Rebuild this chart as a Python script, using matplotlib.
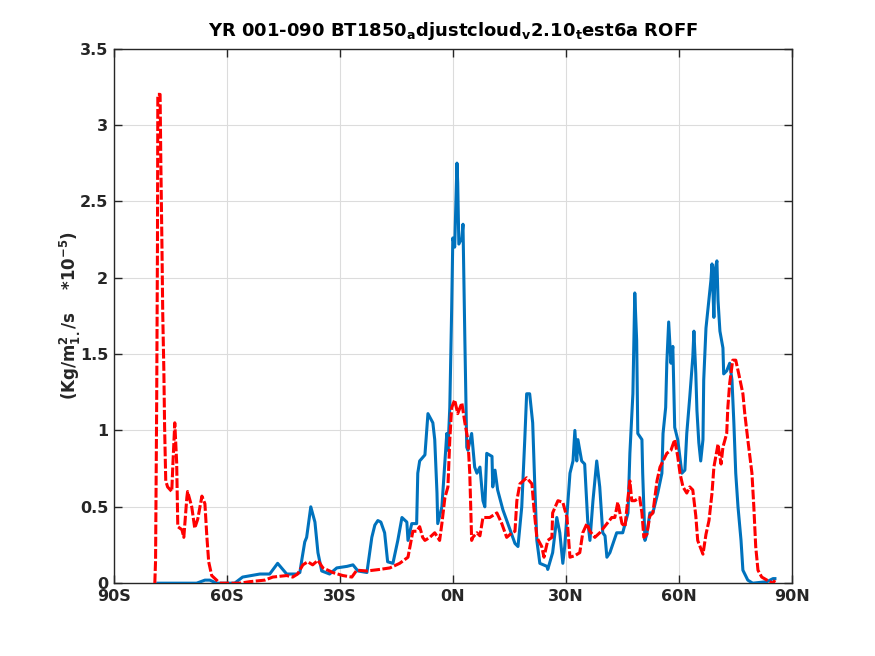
import matplotlib
matplotlib.use('Agg')
import matplotlib.pyplot as plt
import numpy as np

# ─── Zonal mean runoff (units of 1e-5 Kg/m2/s) ───

lat_blue = [-78.3, -68.0, -65.8, -64.5, -62.7, -57.9, -55.8, -51.2, -48.6, -46.5,
            -44.1, -41.4, -40.6, -40.1, -39.3, -38.8, -37.7, -36.6, -35.8, -34.8,
            -32.7, -30.8, -28.1, -26.5, -25.2, -22.8, -21.5, -20.7, -19.9, -19.1,
            -18.1, -17.3, -15.9, -14.6, -13.5, -12.2, -11.9, -10.9, -9.6, -9.3,
            -8.8, -7.4, -6.6, -5.3, -4.8, -4.2, -4.0, -2.9, -1.6, -1.3,
            -0.8, -0.3, 0.0, 0.5, 1.1, 1.3, 1.6, 2.4, 2.7, 3.2,
            3.7, 4.0, 5.0, 5.8, 6.4, 7.2, 8.0, 8.5, 9.0, 10.4,
            10.6, 11.2, 11.9, 13.3, 14.6, 16.5, 17.3, 18.3, 19.1, 19.6,
            20.4, 21.2, 21.8, 22.3, 23.1, 25.0, 25.2, 26.5, 27.6, 28.4,
            29.2, 29.7, 31.1, 31.9, 32.4, 32.9, 33.2, 34.2, 35.0, 35.8,
            36.4, 37.2, 38.2, 39.0, 39.8, 40.4, 40.9, 41.7, 43.5, 45.1,
            46.5, 47.0, 47.8, 48.3, 48.8, 49.1, 50.2, 50.4, 51.0, 51.5,
            52.3, 53.1, 54.4, 55.5, 55.8, 56.5, 56.8, 57.3, 57.9, 58.4,
            58.9, 59.7, 60.8, 61.6, 62.1, 62.9, 63.7, 64.0, 64.5, 64.8,
            65.3, 65.8, 66.4, 66.6, 67.2, 67.7, 68.5, 68.8, 69.3, 69.6,
            70.1, 70.4, 70.9, 71.7, 71.9, 72.7, 73.5, 74.1, 74.6, 75.1,
            75.7, 76.5, 77.0, 78.3, 79.6, 83.4, 85.0, 85.5]
roff_blue = [0.0, 0.0, 0.02, 0.02, 0.0, 0.0, 0.04, 0.06, 0.06, 0.13,
             0.06, 0.06, 0.07, 0.15, 0.27, 0.30, 0.50, 0.40, 0.20, 0.08,
             0.06, 0.10, 0.11, 0.12, 0.08, 0.07, 0.30, 0.38, 0.41, 0.40,
             0.33, 0.14, 0.13, 0.28, 0.43, 0.40, 0.28, 0.39, 0.39, 0.72,
             0.80, 0.84, 1.11, 1.05, 0.94, 0.59, 0.39, 0.50, 0.98, 0.87,
             1.15, 1.80, 2.26, 2.20, 2.75, 2.62, 2.22, 2.26, 2.35, 1.59,
             0.89, 0.87, 0.98, 0.76, 0.72, 0.76, 0.54, 0.50, 0.85, 0.83,
             0.63, 0.74, 0.61, 0.48, 0.39, 0.26, 0.24, 0.50, 0.94, 1.24,
             1.24, 1.05, 0.61, 0.28, 0.13, 0.11, 0.09, 0.20, 0.43, 0.33,
             0.13, 0.24, 0.72, 0.80, 1.00, 0.80, 0.94, 0.80, 0.78, 0.41,
             0.28, 0.54, 0.80, 0.63, 0.33, 0.31, 0.17, 0.20, 0.33, 0.33,
             0.46, 0.85, 1.24, 1.90, 1.59, 0.98, 0.94, 0.72, 0.28, 0.32,
             0.46, 0.46, 0.59, 0.72, 0.98, 1.15, 1.44, 1.71, 1.44, 1.55,
             1.02, 0.94, 0.72, 0.74, 0.98, 1.22, 1.48, 1.65, 1.37, 1.13,
             0.92, 0.80, 0.94, 1.33, 1.67, 1.79, 1.98, 2.09, 1.74, 2.05,
             2.11, 1.85, 1.65, 1.54, 1.37, 1.39, 1.44, 1.33, 1.05, 0.72,
             0.50, 0.28, 0.085, 0.02, 0.0, 0.01, 0.03, 0.03]

lat_red = [-79.1, -78.9, -78.6, -78.4, -78.3, -77.7, -77.5, -77.2, -77.0, -76.7,
           -76.5, -76.2, -75.7, -74.6, -74.3, -73.8, -73.3, -73.0, -71.9, -71.4,
           -70.6, -70.4, -69.3, -68.5, -67.7, -66.6, -65.8, -65.3, -64.8, -64.0,
           -62.7, -61.9, -56.5, -53.9, -49.9, -47.8, -44.1, -42.5, -41.2, -39.8,
           -38.5, -37.2, -35.8, -34.5, -32.7, -31.9, -29.2, -26.8, -25.5, -22.8,
           -19.4, -16.7, -14.1, -11.9, -10.9, -10.6, -9.6, -8.8, -8.0, -7.4,
           -6.1, -4.8, -3.5, -2.9, -2.1, -1.3, -0.8, -0.3, 0.5, 1.3,
           2.4, 3.2, 4.0, 4.5, 5.0, 5.3, 6.4, 7.2, 8.0, 9.8,
           11.7, 13.0, 14.3, 15.7, 16.5, 17.0, 17.8, 19.6, 21.0, 21.5,
           22.3, 23.6, 24.2, 25.2, 26.3, 26.5, 27.9, 29.2, 30.3, 31.1,
           32.4, 33.7, 34.5, 35.6, 36.4, 37.7, 39.0, 40.9, 42.2, 43.0,
           43.8, 44.9, 45.7, 46.5, 47.0, 47.5, 48.3, 49.6, 50.2, 50.7,
           51.5, 52.3, 53.1, 54.2, 55.0, 55.8, 56.8, 57.9, 58.9, 59.7,
           60.3, 61.1, 62.1, 62.9, 63.7, 64.5, 65.0, 66.1, 66.4, 67.2,
           68.0, 68.8, 69.3, 70.1, 70.4, 71.2, 71.7, 72.7, 73.0, 73.5,
           74.3, 75.1, 75.9, 77.0, 77.5, 78.3, 79.4, 79.9, 80.4, 81.0,
           82.0, 83.4, 85.0, 85.5]
roff_red = [0.0, 0.15, 1.20, 2.20, 3.20, 3.20, 2.75, 2.20, 1.77, 1.39,
            1.02, 0.67, 0.63, 0.60, 0.78, 1.05, 0.79, 0.37, 0.35, 0.30,
            0.56, 0.60, 0.50, 0.36, 0.42, 0.57, 0.52, 0.31, 0.14, 0.05,
            0.02, 0.0, 0.0, 0.01, 0.02, 0.04, 0.05, 0.04, 0.06, 0.12,
            0.14, 0.12, 0.15, 0.10, 0.08, 0.07, 0.05, 0.04, 0.085, 0.08,
            0.09, 0.10, 0.13, 0.17, 0.30, 0.34, 0.34, 0.37, 0.30, 0.28,
            0.30, 0.33, 0.28, 0.39, 0.56, 0.63, 0.94, 1.15, 1.20, 1.11,
            1.18, 1.05, 0.94, 0.72, 0.28, 0.30, 0.33, 0.31, 0.43, 0.43,
            0.46, 0.39, 0.30, 0.33, 0.34, 0.54, 0.65, 0.69, 0.65, 0.50,
            0.30, 0.24, 0.17, 0.28, 0.30, 0.46, 0.54, 0.53, 0.43, 0.17,
            0.18, 0.20, 0.33, 0.39, 0.34, 0.30, 0.33, 0.39, 0.43, 0.43,
            0.53, 0.39, 0.37, 0.56, 0.67, 0.54, 0.54, 0.56, 0.46, 0.30,
            0.32, 0.44, 0.46, 0.67, 0.76, 0.80, 0.85, 0.87, 0.94, 0.83,
            0.72, 0.63, 0.59, 0.63, 0.61, 0.44, 0.28, 0.21, 0.19, 0.32,
            0.41, 0.59, 0.76, 0.87, 0.91, 0.78, 0.89, 0.98, 1.15, 1.31,
            1.46, 1.46, 1.37, 1.24, 1.11, 0.94, 0.72, 0.50, 0.24, 0.085,
            0.04, 0.02, 0.0, 0.02]

xticks = [-90, -60, -30, 0, 30, 60, 90]
xtick_labels = ['90S', '60S', '30S', '0N', '30N', '60N', '90N']
yticks = [0, 0.5, 1, 1.5, 2, 2.5, 3, 3.5]
ytick_labels = ['0', '0.5', '1', '1.5', '2', '2.5', '3', '3.5']

C_BLUE = '#0072BD'
C_RED = '#FF0000'
C_AX = '#262626'

plt.rcParams['font.family'] = 'DejaVu Sans'
plt.rcParams['mathtext.default'] = 'bf'

fig = plt.figure(figsize=(8.75, 6.56), dpi=100)
ax = fig.add_axes([0.13, 0.111, 0.775, 0.815])

ax.plot(lat_blue, roff_blue, color=C_BLUE, lw=2.2, zorder=3)
ax.plot(lat_red, roff_red, color=C_RED, lw=2.2, ls=(0, (3.2, 0.8)), zorder=4)

ax.set_xlim(-90, 90)
ax.set_ylim(0, 3.5)
ax.set_xticks(xticks)
ax.set_xticklabels(xtick_labels)
ax.set_yticks(yticks)
ax.set_yticklabels(ytick_labels)

ax.grid(True, color='#dcdcdc', lw=0.8, zorder=0)
ax.set_axisbelow(True)
ax.tick_params(direction='in', length=6, width=1, colors=C_AX,
               top=True, right=True, labelsize=11.5, pad=4)
for lbl in ax.get_xticklabels() + ax.get_yticklabels():
    lbl.set_fontweight('bold')
for sp in ax.spines.values():
    sp.set_color(C_AX)
    sp.set_linewidth(1.0)

ax.set_title('YR 001-090 BT1850$_{a}$djustcloud$_{v}$2.10$_{t}$est6a ROFF',
             fontsize=13, fontweight='bold', color='black', pad=9)
ax.set_ylabel('(Kg/m$^{2}_{1.}$/s    *10$^{-5}$)', fontsize=12,
              fontweight='bold', color=C_AX, labelpad=-2)

fig.savefig('out.png', dpi=100, facecolor='white')
